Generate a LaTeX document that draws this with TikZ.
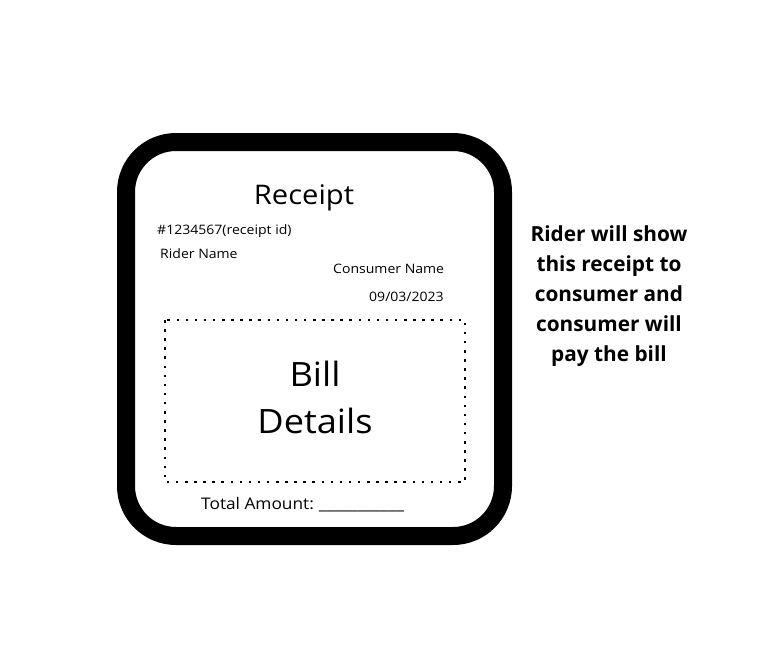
\documentclass[tikz,border=0pt]{standalone}
\usepackage{fontspec}
\setmainfont{Open Sans}
\newfontfamily\widefont[FakeStretch=1.08]{Open Sans}
\begin{document}
\begin{tikzpicture}[x=1pt,y=-1pt,
  small/.style={anchor=base west,inner sep=0pt,font=\widefont\fontsize{13}{15}\selectfont},
  big/.style={anchor=center,inner sep=0pt}]
\useasboundingbox (0,0) rectangle (774,657);
\fill[white] (0,0) rectangle (774,657);
\draw[line width=18pt,rounded corners=50pt] (126,142) rectangle (503,536);
\draw[line width=2.5pt,dash pattern=on 2.5pt off 6.6pt] (165,320) rectangle (465,482);
\node[big,font=\widefont\fontsize{27}{30}\selectfont] (title) at (304,198) {Receipt};
\node[small] (rid) at (157,234) {\#1234567(receipt id)};
\node[small] (rider) at (160,258) {Rider Name};
\node[small] (cons) at (333,273) {Consumer Name};
\node[small] (date) at (369,301) {09/03/2023};
\node[big,font=\widefont\fontsize{33.5}{47}\selectfont,align=center] (bill) at (315,397) {Bill\\Details};
\node[anchor=base west,inner sep=0pt,font=\widefont\fontsize{16}{18}\selectfont] (total) at (201,509) {Total Amount:\hspace{5pt}\_\_\_\_\_\_\_\_\_\_\_};
\node[big,font=\bfseries\fontsize{20.8}{30}\selectfont,align=center] (note) at (609,296) {Rider will show\\this receipt to\\consumer and\\consumer will\\pay the bill};
\end{tikzpicture}
\end{document}
